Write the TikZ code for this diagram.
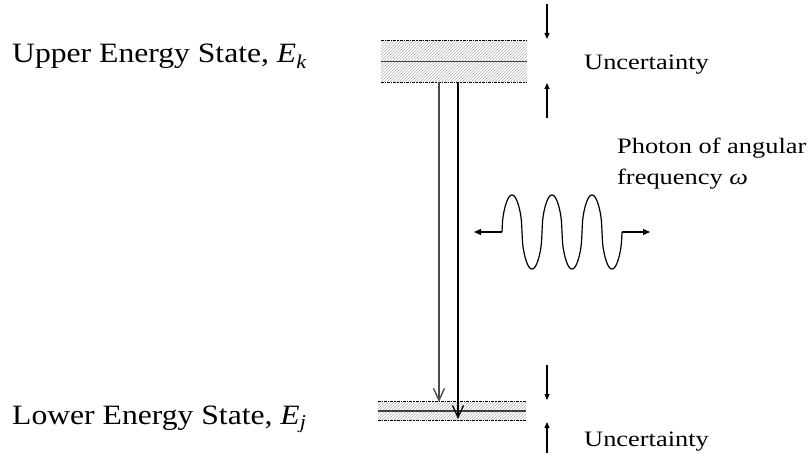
\documentclass[tikz,border=0pt]{standalone}
\usepackage{graphicx}
\usepackage{fontspec}
\setmainfont{Liberation Serif}
\usetikzlibrary{arrows.meta,patterns}
\newcommand\bigwide[1]{\scalebox{1.13}[1]{#1}}
\newcommand\smallwide[1]{\scalebox{1.2}[1]{#1}}
\tikzset{
  levelbox/.style={draw=none, pattern=north east lines, pattern color=black!30, inner sep=0pt},
  levelline/.style={line width=1.3pt, densely dash dot, black},
  midline/.style={line width=1.1pt, black!75},
  transA/.style={line width=2pt, black!70, -{Straight Barb[length=12pt,width=11pt,line width=1.4pt]}},
  transB/.style={line width=1.3pt, black, -{Straight Barb[length=12pt,width=11pt,line width=1.3pt]}},
  uarrow/.style={line width=1.2pt, -{Triangle[length=6pt,width=5pt]}},
  bigtext/.style={inner sep=0pt, anchor=base west, font=\fontsize{28}{33}\selectfont},
  smalltext/.style={inner sep=0pt, anchor=base west, font=\fontsize{22}{26}\selectfont},
  wave/.style={line width=1.2pt, black},
  wavearrow/.style={line width=1.2pt, -{Triangle[length=7pt,width=6pt]}}
}
\begin{document}
\begin{tikzpicture}[x=1pt,y=-1pt]
\useasboundingbox (0,0) rectangle (811,457);
% upper level
\node[levelbox, minimum width=146pt, minimum height=41pt] (up) at (454,61.5) {};
\draw[levelline] (up.north west) -- (up.north east);
\draw[levelline] (up.south west) -- (up.south east);
\draw[midline] (up.west) -- (up.east);
% lower level
\node[levelbox, minimum width=148pt, minimum height=18pt] (lo) at (452,411) {};
\draw[levelline] (lo.north west) -- (lo.north east);
\draw[levelline] (lo.south west) -- (lo.south east);
\draw[midline] (lo.west) -- (lo.east);
% transitions
\coordinate (a1) at (439,82);
\coordinate (a2) at (439,402);
\coordinate (b1) at (458,82);
\coordinate (b2) at (458,419);
\draw[transA] (a1) -- (a2);
\draw[transB] (b1) -- (b2);
% uncertainty arrows
\coordinate (u1) at (547,4);
\coordinate (u2) at (547,39);
\coordinate (u3) at (547,118);
\coordinate (u4) at (547,83);
\draw[uarrow] (u1) -- (u2);
\draw[uarrow] (u3) -- (u4);
\coordinate (l1) at (547,365);
\coordinate (l2) at (547,400);
\coordinate (l3) at (547,453);
\coordinate (l4) at (547,422);
\draw[uarrow] (l1) -- (l2);
\draw[uarrow] (l3) -- (l4);
% photon wave
\coordinate (w0) at (502,232);
\coordinate (w1) at (622,232);
\coordinate (wl) at (474,232);
\coordinate (wr) at (650,232);
\draw[wave] plot[domain=502:622, samples=241] (\x, {232 - 37*sign(sin((\x-502)*9))*pow(abs(sin((\x-502)*9)),0.5)});
\draw[wavearrow] (w0) -- (wl);
\draw[wavearrow] (w1) -- (wr);
% texts
\node[bigtext] (tu) at (12,63) {\bigwide{Upper Energy State, \textit{E}\textsubscript{\textit{k}}}};
\node[bigtext] (tl) at (12,424) {\bigwide{Lower Energy State, \textit{E}\textsubscript{\textit{j}}}};
\node[smalltext] (uc1) at (584,70) {\smallwide{Uncertainty}};
\node[smalltext] (uc2) at (584,446) {\smallwide{Uncertainty}};
\node[smalltext] (ph1) at (617,154) {\smallwide{Photon of angular}};
\node[smalltext] (ph2) at (617,185) {\smallwide{frequency \textit{ω}}};
\end{tikzpicture}
\end{document}
